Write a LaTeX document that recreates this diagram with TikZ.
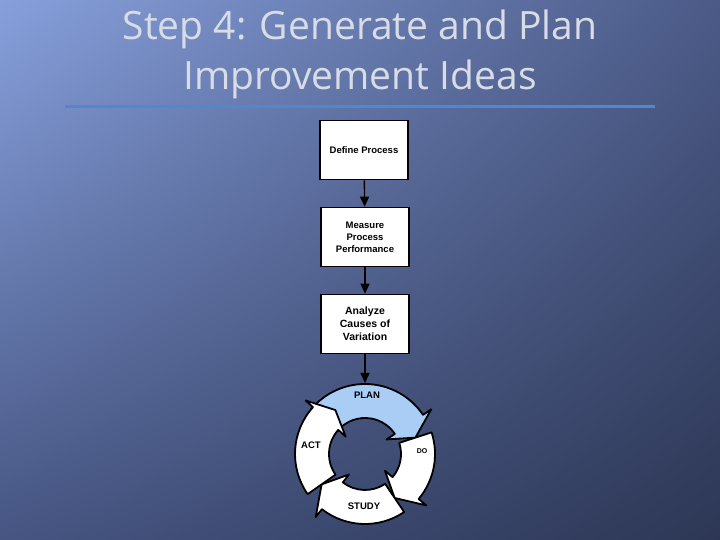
\documentclass[tikz,border=0pt]{standalone}
\usepackage{fontspec}
\usetikzlibrary{shadings,arrows.meta}
\setmainfont{Open Sans}
\newfontfamily\boxfont{Liberation Sans}
\definecolor{bgul}{RGB}{135,160,220}
\definecolor{bgur}{RGB}{75,90,135}
\definecolor{bgll}{RGB}{70,85,130}
\definecolor{bglr}{RGB}{45,55,85}
\definecolor{rulec}{RGB}{80,135,205}
\definecolor{planc}{RGB}{170,205,245}
\definecolor{titlec}{RGB}{215,220,230}
\begin{document}
\begin{tikzpicture}[x=1pt,y=1pt,
  stepbox/.style={draw=black,line width=1.6pt,fill=white,minimum width=88pt,minimum height=59pt,align=center,font=\boxfont\bfseries\fontsize{9.5}{12}\selectfont,inner sep=1pt},
  flow/.style={line width=1.4pt,-{Triangle[length=10pt,width=9pt]}},
  cyc/.style={draw=black,line width=1.8pt,line join=round},
  lbl/.style={font=\boxfont\bfseries\fontsize{9.5}{11}\selectfont}]
\useasboundingbox (0,0) rectangle (720,540);
\shade[upper left=bgul,upper right=bgur,lower left=bgll,lower right=bglr] (0,0) rectangle (720,540);
\node[text=titlec,font=\fontsize{39}{50}\selectfont,align=center] (title) at (360,486) {Step 4: Generate and Plan\\Improvement Ideas};
\draw[line width=3pt,color=rulec] (65,433) coordinate (l1) -- (655,433) coordinate (l2);
\node[stepbox] (def) at (364,390) {Define Process};
\node[stepbox] (meas) at (365,303) {Measure\\Process\\Performance};
\node[stepbox,font=\boxfont\bfseries\fontsize{10.5}{13}\selectfont] (anal) at (365,216) {Analyze\\Causes of\\Variation};
\coordinate (c) at (365,86);
\coordinate (ctop) at (365,157);
\draw[flow] (def) -- (meas);
\draw[flow] (meas) -- (anal);
\draw[flow] (anal) -- (ctop);
\newcommand{\cycarrow}[4]{%
  \filldraw[cyc,fill=#4,shift={(c)}] (#1:36) arc[start angle=#1,end angle=#2,radius=36] -- (#2:26) -- (#3:53) -- (#2:80) -- (#2:70) arc[start angle=#2,end angle=#1,radius=70] -- cycle;}
\cycarrow{140}{34}{18}{planc}
\cycarrow{18}{-40}{-56}{white}
\cycarrow{-56}{-128}{-145}{white}
\cycarrow{-145}{-222}{-236}{white}
\node[lbl] (plan) at (367,145) {PLAN};
\node[lbl] (act) at (311,95) {ACT};
\node[lbl,font=\boxfont\bfseries\fontsize{7}{8}\selectfont] (do) at (422,89) {DO};
\node[lbl] (study) at (364,34) {STUDY};
\end{tikzpicture}
\end{document}
